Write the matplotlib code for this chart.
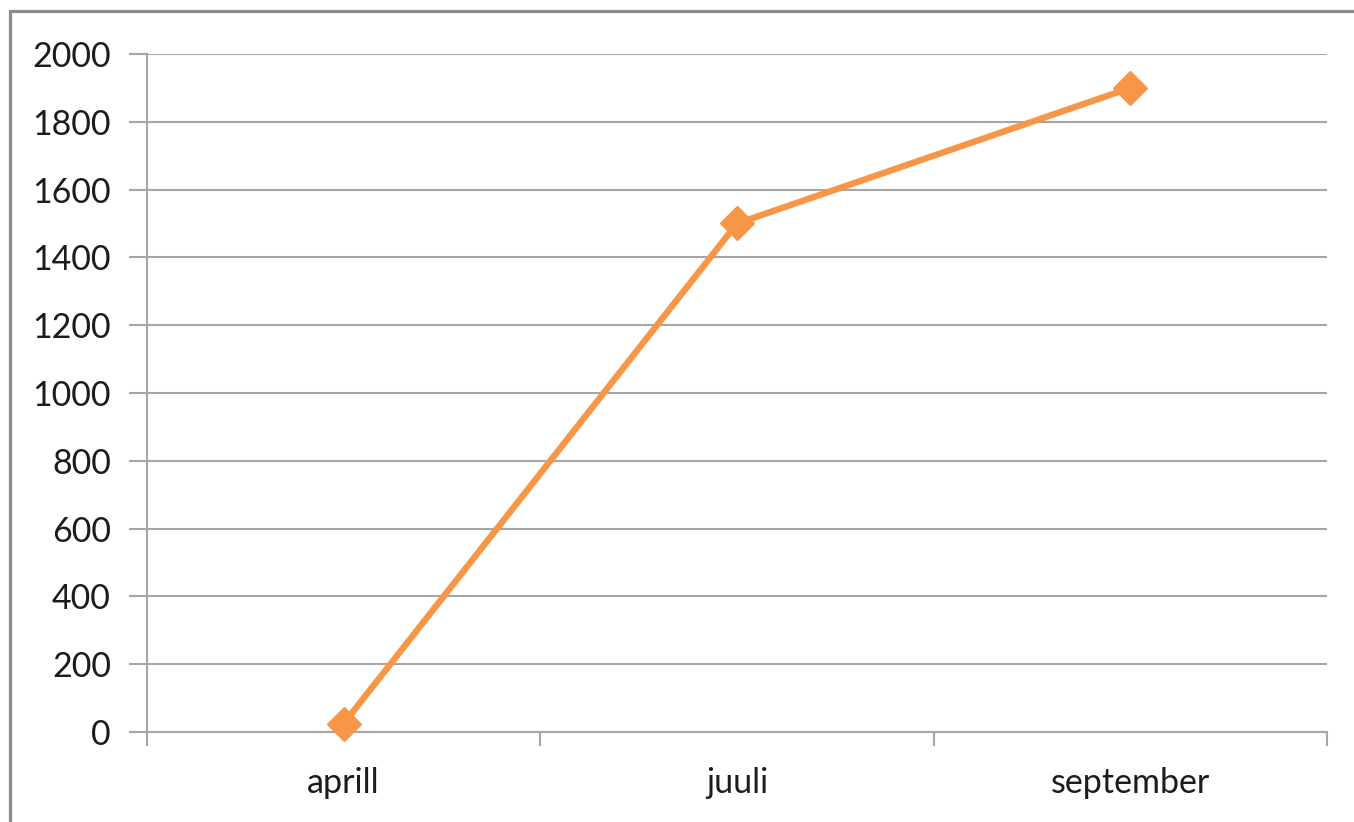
import matplotlib
matplotlib.use("Agg")
import matplotlib.pyplot as plt
from matplotlib.patches import Rectangle

categories = ["aprill", "juuli", "september"]
values = [25, 1500, 1900]
yticks = [0, 200, 400, 600, 800, 1000, 1200, 1400, 1600, 1800, 2000]

W, H = 1354, 822
fig = plt.figure(figsize=(W / 100, H / 100), dpi=100)
fig.patch.set_facecolor("white")

# outer chart border (cut off at right and bottom like the reference)
fig.patches.append(Rectangle((9.5 / W, -0.05), 1.2, (H - 11.5) / H + 0.05,
                             transform=fig.transFigure, fill=False,
                             edgecolor="#8c8c8c", linewidth=2.3))

ax = fig.add_axes([147 / W, (H - 732) / H, (1327 - 147) / W, (732 - 54) / H])
x = list(range(len(categories)))
ax.plot(x, values, color="#F79646", linewidth=4.6, marker="D",
        markersize=17, markerfacecolor="#F79646", markeredgecolor="#F79646",
        solid_joinstyle="miter", zorder=3, clip_on=False)

ax.set_xlim(-0.5, len(categories) - 0.5)
ax.set_ylim(0, 2000)
ax.set_yticks(yticks)
ax.set_yticklabels([str(v) for v in yticks])
ax.yaxis.grid(True, color="#a6a6a6", linewidth=1.5)
ax.set_axisbelow(True)

ax.set_xticks(x)
ax.set_xticklabels(categories)
ax.set_xticks([i + 0.5 for i in range(-1, len(categories))], minor=True)
ax.tick_params(axis="x", which="major", length=0, pad=25)
ax.tick_params(axis="x", which="minor", length=10, width=1.5, color="#a6a6a6")
ax.tick_params(axis="y", length=13, width=1.5, color="#a6a6a6", pad=13)
for lab in ax.get_xticklabels() + ax.get_yticklabels():
    lab.set_fontfamily(["Lato", "DejaVu Sans"])
    lab.set_fontsize(24.5)
    lab.set_color("#1c1c1c")

for s in ["top", "right"]:
    ax.spines[s].set_visible(False)
ax.spines["left"].set_color("#a6a6a6")
ax.spines["left"].set_linewidth(1.5)
ax.spines["bottom"].set_color("#a6a6a6")
ax.spines["bottom"].set_linewidth(1.5)

fig.savefig("out.png", dpi=100, facecolor="white")
